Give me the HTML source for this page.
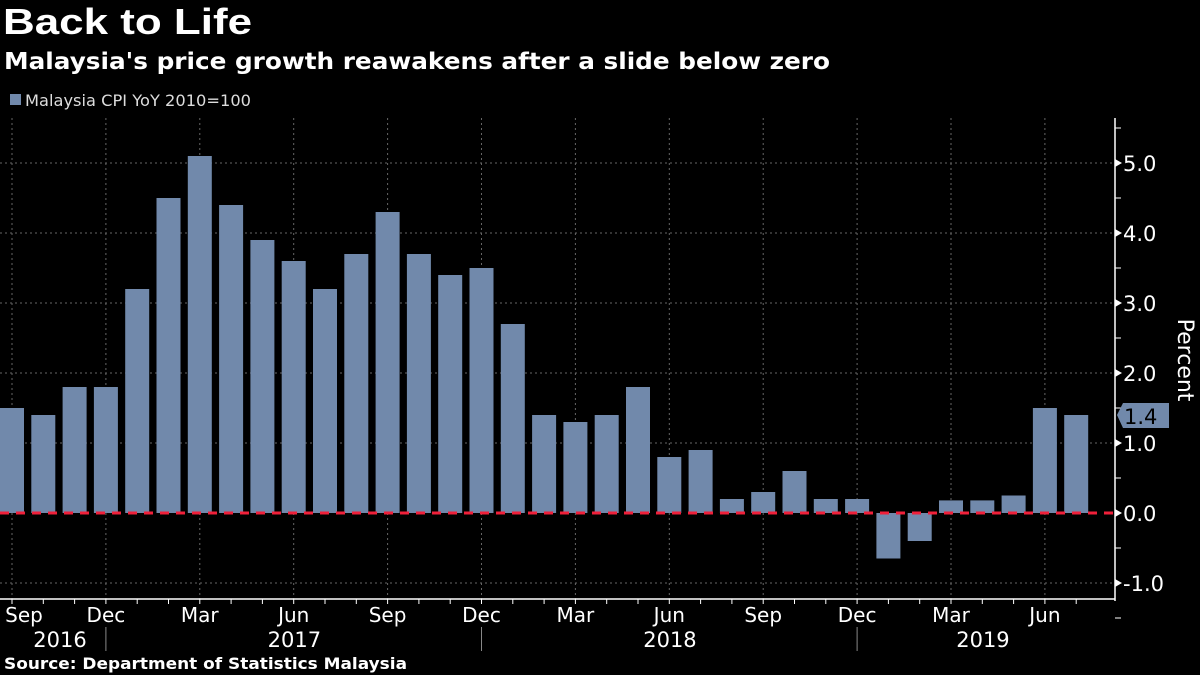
<!DOCTYPE html>
<html><head><meta charset="utf-8"><style>
body{margin:0;background:#000;width:1200px;height:675px;overflow:hidden;font-family:"Liberation Sans","DejaVu Sans",sans-serif;}
svg{display:block}
</style></head><body>
<svg width="1200" height="675">
<text x="3" y="34" fill="#fff" font-size="36" font-weight="bold" textLength="249" lengthAdjust="spacingAndGlyphs">Back to Life</text>
<text x="4" y="69" fill="#fff" font-size="23" font-weight="bold" font-family="DejaVu Sans, sans-serif" textLength="826" lengthAdjust="spacingAndGlyphs">Malaysia's price growth reawakens after a slide below zero</text>
<rect x="10" y="94" width="11" height="11" fill="#7189ab"/>
<text x="25" y="106" fill="#ddd" font-size="16" font-family="DejaVu Sans, sans-serif" textLength="226" lengthAdjust="spacingAndGlyphs">Malaysia CPI YoY 2010=100</text>
<g id="grid"></g><g id="bars"></g><g id="axes"></g>
<text transform="translate(1178,360) rotate(90)" fill="#fff" font-size="22" text-anchor="middle" font-family="DejaVu Sans, sans-serif">Percent</text>
<text x="4" y="669" fill="#fff" font-size="16" font-weight="bold" font-family="DejaVu Sans, sans-serif" textLength="403" lengthAdjust="spacingAndGlyphs">Source: Department of Statistics Malaysia</text>
</svg>
<script>
const months=["Sep","Oct","Nov","Dec","Jan","Feb","Mar","Apr","May","Jun","Jul","Aug","Sep","Oct","Nov","Dec","Jan","Feb","Mar","Apr","May","Jun","Jul","Aug","Sep","Oct","Nov","Dec","Jan","Feb","Mar","Apr","May","Jun","Jul"];
const values=[1.5,1.4,1.8,1.8,3.2,4.5,5.1,4.4,3.9,3.6,3.2,3.7,4.3,3.7,3.4,3.5,2.7,1.4,1.3,1.4,1.8,0.8,0.9,0.2,0.3,0.6,0.2,0.2,-0.65,-0.4,0.18,0.18,0.25,1.5,1.4];
const yTicks=[-1,0,1,2,3,4,5];
const years=[{label:"2016",from:0,to:3},{label:"2017",from:4,to:15},{label:"2018",from:16,to:27},{label:"2019",from:28,to:35}];
const lastLabel="1.4";
const NS="http://www.w3.org/2000/svg";
const x=i=>12+i*31.3, y=v=>513-v*70;
const axisX=1115, axisY=599;
function mk(tag,a,p){const e=document.createElementNS(NS,tag);for(const k in a)e.setAttribute(k,a[k]);p.appendChild(e);return e;}
const G=document.getElementById("grid"),B=document.getElementById("bars"),A=document.getElementById("axes");
yTicks.forEach(t=>{if(t===0)return;const l=mk("line",{x1:0,x2:axisX,y1:y(t),y2:y(t),stroke:"#666","stroke-dasharray":"2,3"},G);

});
months.forEach((m,i)=>{if(i%3===0){const l=mk("line",{x1:x(i),x2:x(i),y1:118,y2:axisY,stroke:"#666","stroke-dasharray":"2,3"},G);

}});
values.forEach((v,i)=>{const r=mk("rect",{x:x(i)-12,width:24,y:Math.min(y(v),y(0)),height:Math.abs(y(v)-y(0)),fill:"#7189ab"},B);

});
const z=mk("line",{x1:0,x2:axisX,y1:y(0),y2:y(0),stroke:"#f0203a","stroke-width":3,"stroke-dasharray":"9,7"},A);


const ya=mk("line",{x1:axisX,x2:axisX,y1:118,y2:axisY+2,stroke:"#fff","stroke-width":1.5},A);


const xa=mk("line",{x1:0,x2:axisX,y1:axisY,y2:axisY,stroke:"#fff","stroke-width":1.5},A);


for(let v=-1.5;v<=5.5;v+=0.5){mk("line",{x1:axisX,x2:axisX+6,y1:y(v),y2:y(v),stroke:"#fff"},A);}
yTicks.forEach(t=>{mk("path",{d:`M${axisX} ${y(t)-4}L${axisX+7} ${y(t)}L${axisX} ${y(t)+4}Z`,fill:"#fff"},A);
const tx=mk("text",{x:axisX+8,y:y(t)+8,fill:"#fff","font-size":21,"font-family":"DejaVu Sans, sans-serif"},A);tx.textContent=t.toFixed(1);

});
months.forEach((m,i)=>{mk("line",{x1:x(i),x2:x(i),y1:axisY,y2:axisY+5,stroke:"#fff"},A);
if(i%3===0){const t=mk("text",{x:i===0?x(i)+12:x(i),y:622,fill:"#fff","font-size":20,"text-anchor":"middle","font-family":"DejaVu Sans, sans-serif"},A);t.textContent=m;

}});
years.forEach((yr,k)=>{const cx=k===0?60:(x(yr.from)+x(yr.to))/2-15;const t=mk("text",{x:cx,y:647,fill:"#fff","font-size":21,"text-anchor":"middle","font-family":"DejaVu Sans, sans-serif"},A);t.textContent=yr.label;


if(k>0){mk("line",{x1:x(yr.from-1),x2:x(yr.from-1),y1:627,y2:651,stroke:"#888"},A);}});
const ly=y(values[values.length-1]);
const tag=mk("path",{d:`M${axisX+2} ${ly}L${axisX+8} ${ly-12}L${axisX+54} ${ly-12}L${axisX+54} ${ly+13}L${axisX+8} ${ly+13}Z`,fill:"#7189ab"},A);


const lt=mk("text",{x:axisX+9,y:ly+9,fill:"#000","font-size":21,"font-family":"DejaVu Sans, sans-serif"},A);lt.textContent=lastLabel;


</script>
</body></html>
